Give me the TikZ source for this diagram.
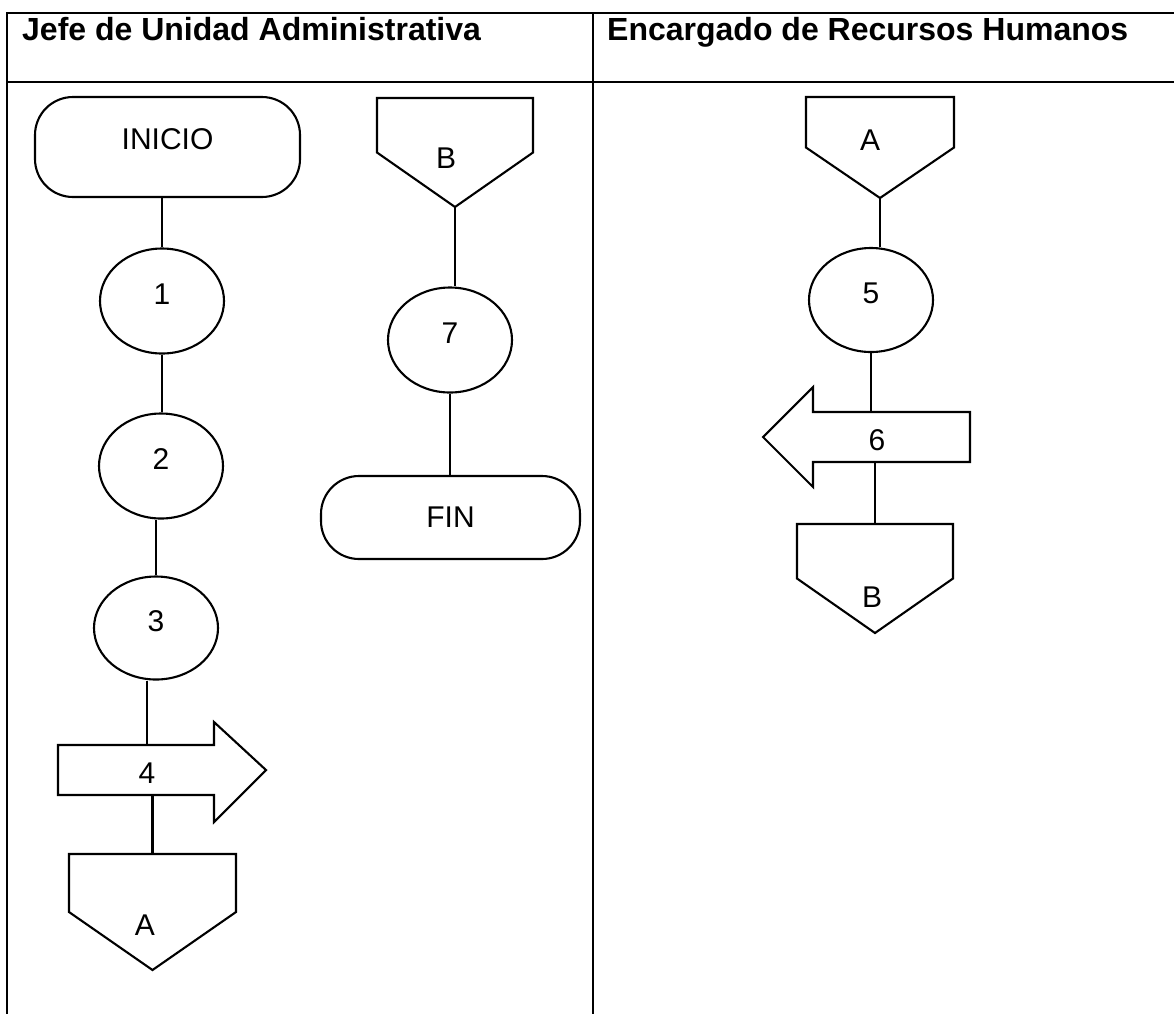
\documentclass[tikz,border=0pt]{standalone}
\usepackage{fontspec}
\setmainfont{Liberation Sans}
\usetikzlibrary{shapes.geometric}

\tikzset{
  frame/.style={line width=2.2pt},
  outline/.style={line width=2.1pt},
  conn/.style={line width=2.6pt},
  head/.style={font=\fontsize{32}{36}\bfseries\selectfont, inner sep=0pt, anchor=base west},
  lbl/.style={font=\fontsize{30}{32}\selectfont, inner sep=0pt},
  proc/.style={ellipse, draw, outline, minimum width=124pt, minimum height=105pt,
    inner sep=0pt, font=\fontsize{30}{32}\selectfont, text height=22pt, text depth=16pt},
  term/.style={inner sep=0pt, outer sep=0pt, font=\fontsize{30}{32}\selectfont},
  termline/.style={outline, rounded corners=38pt},
  area/.style={inner sep=0pt, outer sep=0pt}
}

\begin{document}
\begin{tikzpicture}[x=1pt, y=-1pt]
\useasboundingbox (0,0) rectangle (1174,1013);

% swimlane table
\begin{scope}
  \clip (0,0) rectangle (1174,1013);
  \draw[frame] (7,1020) -- (7,13) -- (1180,13);
  \draw[frame] (7,82) -- (1180,82);
  \draw[frame] (593,13) -- (593,1020);
\end{scope}
\node[head] (h1) at (22,40) {Jefe de Unidad Administrativa};
\node[head] (h2) at (607,40) {Encargado de Recursos Humanos};

% ---- Jefe de Unidad Administrativa ----
\node[term, minimum width=265pt, minimum height=100pt, text height=22pt, text depth=18pt]
  (ini) at (167.5,147) {INICIO};
\draw[termline] (ini.north west) rectangle (ini.south east);
\node[proc] (c1) at (162,301) {1};
\node[proc] (c2) at (161,466) {2};
\node[proc, minimum height=103pt] (c3) at (156,628) {3};

% arrow 4
\node[area, minimum width=156pt, minimum height=50pt] (a4) at (136,770) {};
\draw[outline] (a4.north west) -- (a4.north east) -- ([yshift=23pt]a4.north east)
  -- ([xshift=52pt]a4.east) -- ([yshift=-27pt]a4.south east) -- (a4.south east)
  -- (a4.south west) -- cycle;
\node[lbl] (t4) at (147,773) {4};

% off-page connector A
\node[area, minimum width=167pt, minimum height=116pt] (pa) at (152.5,912) {};
\draw[outline] (pa.north west) -- (pa.north east) -- (pa.east) -- (pa.south)
  -- (pa.west) -- cycle;
\node[lbl] (la) at (145,925) {A};

% off-page connector B (entry)
\node[area, minimum width=156pt, minimum height=109pt] (pb) at (455,152.5) {};
\draw[outline] (pb.north west) -- (pb.north east) -- (pb.east) -- (pb.south)
  -- (pb.west) -- cycle;
\node[lbl] (lb) at (446,158) {B};

\node[proc] (c7) at (450,340) {7};
\node[term, minimum width=259pt, minimum height=83pt] (fin) at (450.5,517.5) {FIN};
\draw[termline] (fin.north west) rectangle (fin.south east);

% ---- Encargado de Recursos Humanos ----
\node[area, minimum width=148pt, minimum height=101pt] (pa2) at (880,147.5) {};
\draw[outline] (pa2.north west) -- (pa2.north east) -- (pa2.east) -- (pa2.south)
  -- (pa2.west) -- cycle;
\node[lbl] (la2) at (870,140) {A};

\node[proc, minimum height=104pt] (c5) at (871,300) {5};

% arrow 6
\node[area, minimum width=157pt, minimum height=50pt] (a6) at (891.5,437) {};
\draw[outline] (a6.north east) -- (a6.north west) -- ([yshift=25pt]a6.north west)
  -- ([xshift=-50pt]a6.west) -- ([yshift=-25pt]a6.south west) -- (a6.south west)
  -- (a6.south east) -- cycle;
\node[lbl] (t6) at (877,440) {6};

% off-page connector B (exit)
\node[area, minimum width=156pt, minimum height=109pt] (pb2) at (875,578.5) {};
\draw[outline] (pb2.north west) -- (pb2.north east) -- (pb2.east) -- (pb2.south)
  -- (pb2.west) -- cycle;
\node[lbl] (lb2) at (872,597) {B};

% connectors
\draw[conn] (c1.north |- ini.south) -- (c1.north);
\draw[conn] (c1.south) -- (c1.south |- c2.north);
\draw[conn] (c3.north |- c2.south) -- (c3.north);
\draw[conn] (t4 |- c3.south) -- (t4 |- a4.north);
\draw[conn] (pa.north |- a4.south) -- (pa.north);
\draw[conn] (pb.south) -- (pb.south |- c7.north);
\draw[conn] (c7.south) -- (c7.south |- fin.north);
\draw[conn] (pa2.south) -- (pa2.south |- c5.north);
\draw[conn] (c5.south) -- (c5.south |- a6.north);
\draw[conn] (pb2.north |- a6.south) -- (pb2.north);
\end{tikzpicture}
\end{document}
